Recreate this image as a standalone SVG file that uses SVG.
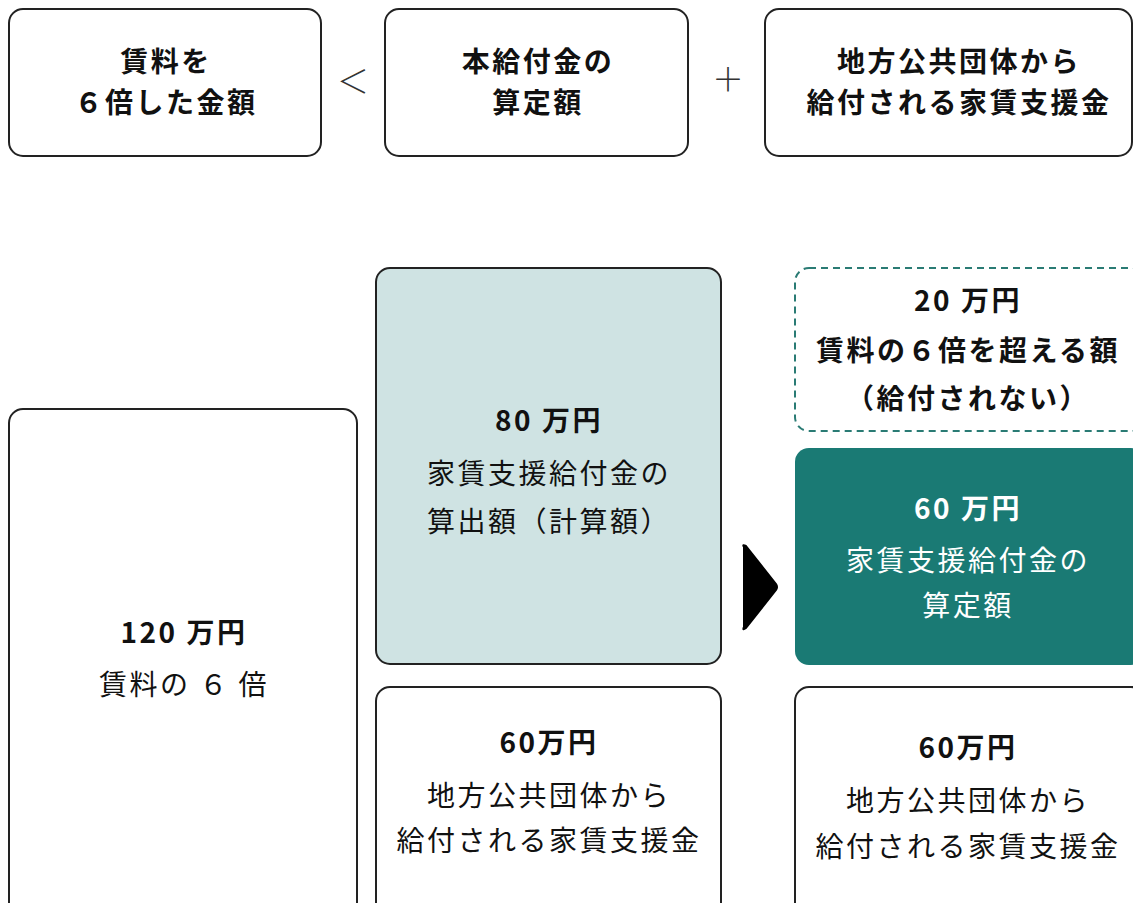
<svg xmlns="http://www.w3.org/2000/svg" width="1133" height="903" viewBox="0 0 1133 903">
<style>
.box{fill:#fff;stroke:#222;stroke-width:2}
.blue{fill:#cfe3e3;stroke:#222;stroke-width:2}
.teal{fill:#1a7a74;stroke:none}
.dash{fill:#fff;stroke:#2a7b74;stroke-width:2;stroke-dasharray:7 5}
text{font-family:"Noto Sans CJK JP","Noto Sans",sans-serif;font-size:28px;text-anchor:middle;fill:#111;letter-spacing:2.5px}
.b{font-weight:bold}
.w{fill:#fff}
.op{font-size:32px;font-weight:300;letter-spacing:0;fill:#333}
</style>
<rect width="1133" height="903" fill="#fff"/>
<g id="top-rent6">
<rect class="box" x="9" y="9" width="312" height="147" rx="14"/>
<text class="b" x="166" y="72">賃料を</text>
<text class="b" x="166" y="113">６倍した金額</text>
</g>
<g id="top-calc">
<rect class="box" x="385" y="9" width="303" height="147" rx="14"/>
<text class="b" x="538" y="72">本給付金の</text>
<text class="b" x="538" y="113">算定額</text>
</g>
<g id="top-local">
<rect class="box" x="765" y="9" width="367" height="147" rx="14"/>
<text class="b" x="959" y="72">地方公共団体から</text>
<text class="b" x="959" y="113">給付される家賃支援金</text>
</g>
<g id="operators">
<text class="op" x="353" y="93">＜</text>
<text class="op" x="728" y="91">＋</text>
</g>
<g id="left-120">
<rect class="box" x="9" y="409" width="348" height="510" rx="14"/>
<text class="b" x="184" y="643">120 万円</text>
<text x="184" y="695">賃料の ６ 倍</text>
</g>
<g id="mid-80">
<rect class="blue" x="376" y="268" width="345" height="396" rx="14"/>
<text class="b" x="549" y="431">80 万円</text>
<text x="549" y="484">家賃支援給付金の</text>
<text x="549" y="532">算出額（計算額）</text>
</g>
<g id="mid-60">
<rect class="box" x="376" y="687" width="345" height="232" rx="14"/>
<text class="b" x="549" y="753">60万円</text>
<text x="549" y="806">地方公共団体から</text>
<text x="549" y="851">給付される家賃支援金</text>
</g>
<g id="right-20">
<rect class="dash" x="795" y="268" width="350" height="163" rx="14"/>
<text class="b" x="968" y="311">20 万円</text>
<text class="b" x="968" y="361">賃料の６倍を超える額</text>
<text class="b" x="968" y="409">（給付されない）</text>
</g>
<g id="right-60-teal">
<rect class="teal" x="795" y="448" width="350" height="217" rx="14"/>
<text class="b w" x="968" y="519">60 万円</text>
<text class="w" x="968" y="571">家賃支援給付金の</text>
<text class="w" x="968" y="616">算定額</text>
</g>
<g id="right-60">
<rect class="box" x="795" y="687" width="350" height="232" rx="14"/>
<text class="b" x="968" y="758">60万円</text>
<text x="968" y="811">地方公共団体から</text>
<text x="968" y="857">給付される家賃支援金</text>
</g>
<g id="connectors">
<path d="M744 547 Q742 544 746 546 L776 584 Q778 587 776 590 L746 628 Q742 631 744 627 Z" fill="#000" stroke="#000" stroke-width="2" stroke-linejoin="round"/>
</g>
</svg>
